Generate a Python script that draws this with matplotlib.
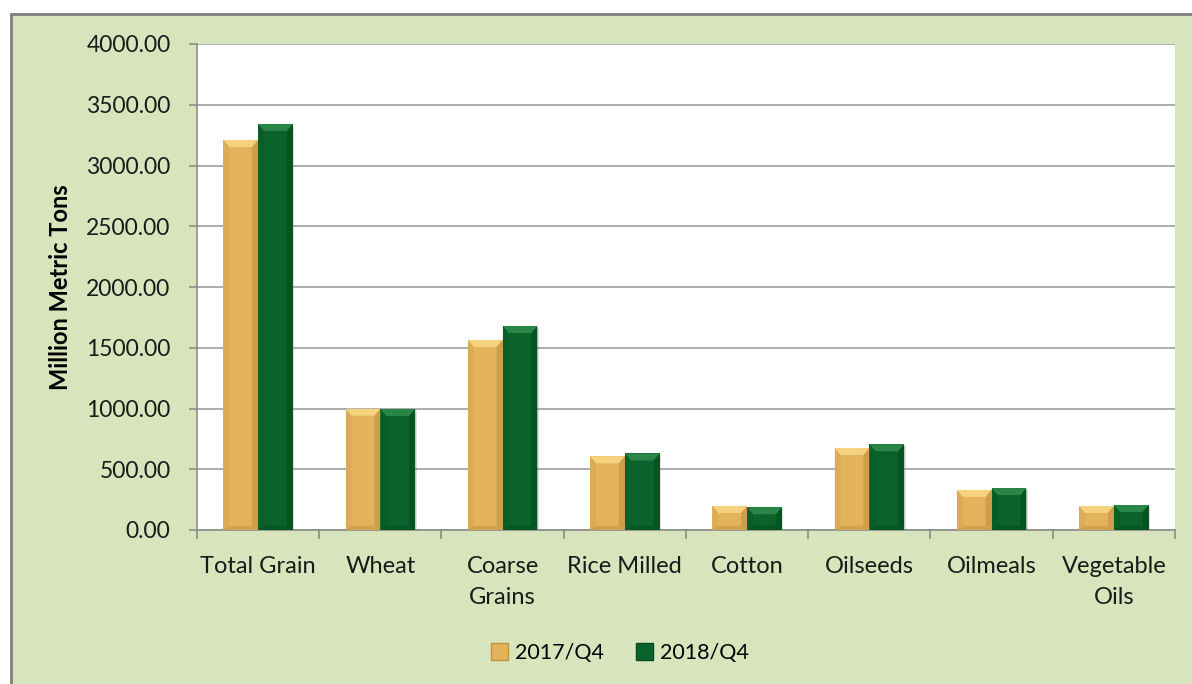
import matplotlib
matplotlib.use('Agg')
import matplotlib.pyplot as plt
from matplotlib.patches import Polygon, Rectangle, Patch
import numpy as np

plt.rcParams['font.family'] = ['Lato', 'DejaVu Sans']

# Данные
categories = ['Total Grain', 'Wheat', 'Coarse\nGrains', 'Rice Milled', 'Cotton',
              'Oilseeds', 'Oilmeals', 'Vegetable\nOils']
q4_2017 = [3210, 998, 1564, 607, 198, 675, 330, 198]
q4_2018 = [3342, 996, 1679, 630, 187, 706, 345, 206]
series_names = ['2017/Q4', '2018/Q4']
yticks = [0, 500, 1000, 1500, 2000, 2500, 3000, 3500, 4000]

# Цвета: основная грань, светлая фаска, тёмная фаска
gold = ('#e3b35b', '#f7d682', '#c0913f')
green = ('#0b632b', '#2e8a4b', '#004a1d')

fig = plt.figure(figsize=(11.92, 6.84), dpi=100)
fig.patch.set_facecolor('white')
# Зелёная рамка диаграммы
fig.patches.append(Rectangle((11 / 1192, -0.05), 1.1, 1 - 14 / 684 + 0.05,
                             transform=fig.transFigure, facecolor='#d8e4bc',
                             edgecolor='#7f7f7f', linewidth=2, zorder=-10))

ax = fig.add_axes([197 / 1192, 1 - 530 / 684, (1175 - 197) / 1192, (530 - 44) / 684])
ax.set_facecolor('white')

x = np.arange(len(categories))
w = 0.285
bars1 = ax.bar(x - w / 2, q4_2017, w, color=gold[0], zorder=3)
bars2 = ax.bar(x + w / 2, q4_2018, w, color=green[0], zorder=3)

ax.set_xlim(-0.5, len(categories) - 0.5)
ax.set_ylim(0, 4000)

# Фаски на столбцах (размеры в пикселях переводим в единицы данных)
px_x = 1 / 122.0
px_y = 4000 / 486.0
bev_x = 6 * px_x
bev_y = 7 * px_y


def bevel(rect, cols):
    x0, y0 = rect.get_x(), rect.get_y()
    x1, y1 = x0 + rect.get_width(), y0 + rect.get_height()
    face, light, dark = cols
    by = min(bev_y, rect.get_height() / 3)
    ix0, ix1, iy0, iy1 = x0 + bev_x, x1 - bev_x, y0 + by * 0.6, y1 - by
    polys = [
        ([(x0, y1), (x1, y1), (ix1, iy1), (ix0, iy1)], light, 0.9),
        ([(x0, y0), (x1, y0), (ix1, iy0), (ix0, iy0)], dark, 0.5),
        ([(x1, y0), (x1, y1), (ix1, iy1), (ix1, iy0)], dark, 0.6),
        ([(x0, y0), (x0, y1), (ix0, iy1), (ix0, iy0)], dark, 0.2),
    ]
    for pts, c, a in polys:
        ax.add_patch(Polygon(pts, closed=True, facecolor=c, edgecolor='none',
                             alpha=a, zorder=4))
    # лёгкая тень справа
    ax.add_patch(Rectangle((x0 + 1.5 * px_x, y0), x1 - x0, y1 - y0 - 2 * px_y,
                           facecolor='#808080', edgecolor='none', alpha=0.25, zorder=2))


for b in bars1:
    bevel(b, gold)
for b in bars2:
    bevel(b, green)

# Сетка и оси
ax.set_yticks(yticks)
ax.set_yticklabels([f'{v:.2f}' for v in yticks], fontsize=16.5, color='#1a1a1a')
ax.yaxis.grid(True, color='#a6a6a6', linewidth=1.3, zorder=0)
ax.set_axisbelow(True)
ax.tick_params(axis='y', length=6, width=1.2, color='#8c8c8c', pad=13)

ax.set_xticks(x)
ax.set_xticklabels(categories, fontsize=17, color='#1a1a1a', linespacing=1.55)
ax.tick_params(axis='x', length=0, pad=19)
for b in np.arange(len(categories) + 1) - 0.5:
    ax.plot([b, b], [0, -68], color='#8c8c8c', linewidth=1.2, clip_on=False, zorder=1)

for s in ['top', 'right']:
    ax.spines[s].set_visible(False)
ax.spines['left'].set_color('#8c8c8c')
ax.spines['bottom'].set_color('#8c8c8c')
ax.spines['left'].set_linewidth(1.2)
ax.spines['bottom'].set_linewidth(1.2)

ax.set_ylabel('Million Metric Tons', fontsize=17, fontweight='bold', labelpad=10)

# Легенда
handles = [Patch(facecolor=gold[0], edgecolor=gold[2]),
           Patch(facecolor=green[0], edgecolor=green[2])]
fig.legend(handles, series_names, loc='center', bbox_to_anchor=(620 / 1192, 1 - 653 / 684),
           ncol=2, frameon=False, fontsize=15.5, handlelength=0.8, handleheight=0.8,
           handletextpad=0.3, columnspacing=1.5)

fig.savefig('out.png', dpi=100, facecolor=fig.get_facecolor())
